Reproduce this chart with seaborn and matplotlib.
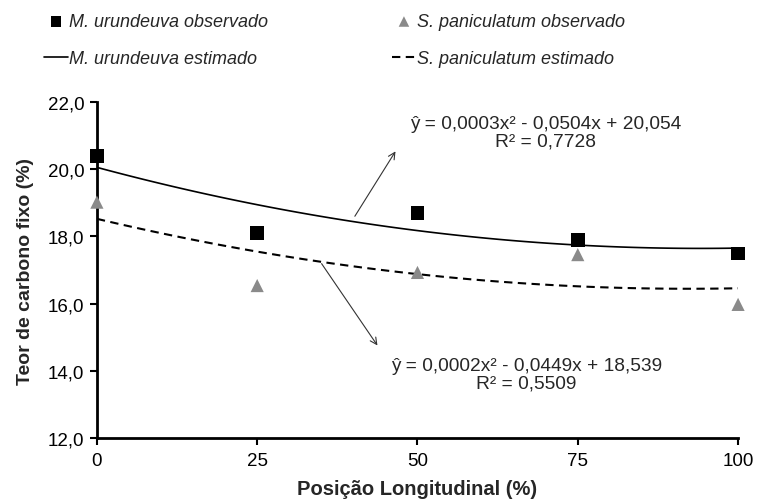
import numpy as np
import pandas as pd
import matplotlib
matplotlib.use("Agg")
import matplotlib.pyplot as plt
from matplotlib.ticker import FuncFormatter
import seaborn as sns

# data
posicao = [0, 25, 50, 75, 100]
m_urundeuva = [20.39, 18.10, 18.69, 17.90, 17.49]
s_paniculatum = [19.02, 16.54, 16.93, 17.46, 15.98]

eq_m = "ŷ = 0,0003x² - 0,0504x + 20,054\nR² = 0,7728"
eq_s = "ŷ = 0,0002x² - 0,0449x + 18,539\nR² = 0,5509"

df = pd.DataFrame({"pos": posicao, "m": m_urundeuva, "s": s_paniculatum})

sns.set_theme(style="white")
plt.rcParams['font.family'] = ['Liberation Sans', 'DejaVu Sans']

fig = plt.figure(figsize=(7.57, 5.02), dpi=100)
ax = fig.add_axes([0.128, 0.125, 0.847, 0.670])

grey = "#8a8a8a"

# fitted curves (2nd order)
sns.regplot(data=df, x="pos", y="m", order=2, ci=None, scatter=False, ax=ax,
            label="M. urundeuva estimado",
            line_kws=dict(color="black", lw=1.2, zorder=2))
sns.regplot(data=df, x="pos", y="s", order=2, ci=None, scatter=False, ax=ax,
            label="S. paniculatum estimado",
            line_kws=dict(color="black", lw=1.5, ls=(0, (4, 2.6)), zorder=2))

# observed points
sns.scatterplot(data=df, x="pos", y="m", marker="s", s=95, color="black",
                edgecolor="none", ax=ax, label="M. urundeuva observado",
                zorder=3, clip_on=False)
sns.scatterplot(data=df, x="pos", y="s", marker="^", s=90, color=grey,
                edgecolor="none", ax=ax, label="S. paniculatum observado",
                zorder=3, clip_on=False)

ax.set_xlim(0, 100)
ax.set_ylim(12, 22)
ax.set_xticks(posicao)
ax.set_yticks(np.arange(12, 22.1, 2))
ax.yaxis.set_major_formatter(FuncFormatter(lambda v, p: f"{v:.1f}".replace(".", ",")))
ax.tick_params(axis="both", labelsize=13.5, colors="black", length=5, width=1.5,
               direction="out", bottom=True, left=True, pad=4)
ax.tick_params(axis="x", pad=5)
for side in ["top", "right"]:
    ax.spines[side].set_visible(False)
for side in ["left", "bottom"]:
    ax.spines[side].set_color("black")
    ax.spines[side].set_linewidth(2)

ax.set_xlabel("Posição Longitudinal (%)", fontsize=14.5, fontweight="bold", labelpad=7)
ax.set_ylabel("Teor de carbono fixo (%)", fontsize=14, fontweight="bold", labelpad=10)

# equations and arrows
ax.text(70.0, 21.1, eq_m, ha="center", va="center", fontsize=13.8, linespacing=1.0)
ax.text(67.0, 13.9, eq_s, ha="center", va="center", fontsize=13.8, linespacing=1.0)
ax.annotate("", xy=(46.8, 20.6), xytext=(40.0, 18.53),
            arrowprops=dict(arrowstyle="->", lw=0.8, color="#333333"))
ax.annotate("", xy=(44.0, 14.69), xytext=(34.8, 17.26),
            arrowprops=dict(arrowstyle="->", lw=0.8, color="#333333"))

handles, labels = ax.get_legend_handles_labels()
order = ["M. urundeuva observado", "M. urundeuva estimado",
         "S. paniculatum observado", "S. paniculatum estimado"]
hmap = dict(zip(labels, handles))
ax.legend_ = None
fig.legend([hmap[k] for k in order], order, ncol=2, loc="upper left",
           bbox_to_anchor=(0.037, 1.004), frameon=False,
           prop=dict(style="italic", size=13), labelspacing=1.1,
           columnspacing=6.9, handlelength=1.3, handletextpad=0.05,
           markerscale=0.8)

fig.savefig("out.png", dpi=100)
